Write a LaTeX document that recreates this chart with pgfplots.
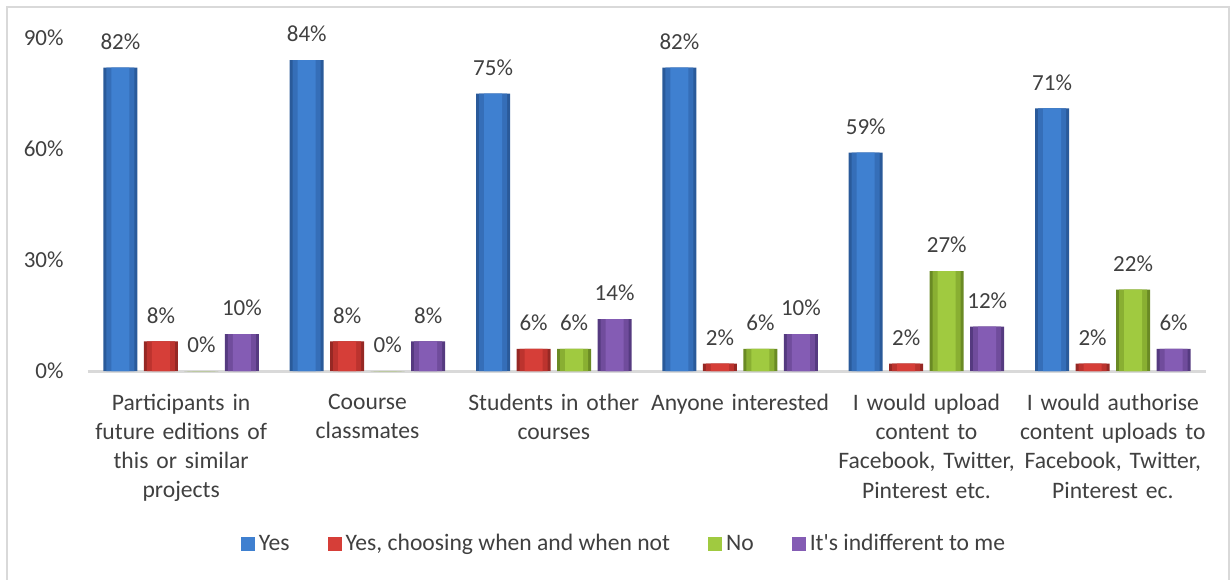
\documentclass[border=0pt]{standalone}
\usepackage{pgfplots}
\pgfplotsset{compat=1.18}
\usepackage{fontspec}
\setmainfont{Carlito}
\definecolor{txt}{HTML}{404040}
\definecolor{bmain}{HTML}{3F80D0}
\definecolor{bmid}{HTML}{356EB8}
\definecolor{bedge}{HTML}{2A5A9A}
\definecolor{rmain}{HTML}{D63E38}
\definecolor{rmid}{HTML}{BC332E}
\definecolor{redge}{HTML}{962824}
\definecolor{gmain}{HTML}{A0CA40}
\definecolor{gmid}{HTML}{89AF32}
\definecolor{gedge}{HTML}{6A8A24}
\definecolor{pmain}{HTML}{845CB4}
\definecolor{pmid}{HTML}{704C9C}
\definecolor{pedge}{HTML}{553A80}
\definecolor{frame}{HTML}{D9D9D9}
\pgfplotsset{
  lay1/.style={fill=#1, draw=none, bar width=17pt, forget plot},
  lay2/.style={fill=#1, draw=none, bar width=14pt, forget plot},
  lay3/.style={fill=#1, draw=none, bar width=9pt,
    nodes near coords={\pgfmathprintnumber{\pgfplotspointmeta}\%},
    every node near coord/.append style={font=\fontsize{11.5}{12}\selectfont, text=txt, yshift=5.5pt}},
}
\begin{document}
\begin{tikzpicture}
\path[use as bounding box] (0,0) rectangle (616pt,-289.5pt);
\draw[frame, line width=1pt] (3.5pt,-290pt) -- (3.5pt,-3.5pt) -- (614.5pt,-3.5pt) -- (614.5pt,-290pt);
\begin{axis}[
  at={(44pt,-185.5pt)}, anchor=south west,
  scale only axis, width=559pt, height=166.5pt,
  ybar,
  xmin=-0.5, xmax=5.5, ymin=0, ymax=90,
  axis x line*=bottom, axis y line*=left,
  x axis line style={frame, line width=1.5pt, -},
  y axis line style={draw=none},
  xtick=data, major tick length=0pt,
  ytick={0,30,60,90}, yticklabels={0\%,30\%,60\%,90\%},
  yticklabel style={font=\fontsize{11.5}{12}\selectfont, text=txt, anchor=east, xshift=-8.7pt},
  xticklabels={{Participants in\\future editions of\\this or similar\\projects},
    {Coourse\\classmates},{Students in other\\courses},{Anyone interested},
    {I would upload\\content to\\Facebook, Twitter,\\Pinterest etc.},
    {I would authorise\\content uploads to\\Facebook, Twitter,\\Pinterest ec.}},
  xticklabel style={text width=96pt, align=center, font=\fontsize{11.8}{14.6}\selectfont, text=txt, anchor=north, yshift=-8pt},
  clip=false,
  /pgf/number format/assume math mode=true,
  legend columns=4,
  legend style={draw=none, at={(axis description cs:0.5,0)}, anchor=center, yshift=-86.5pt, xshift=-11pt,
    font=\fontsize{11.8}{12}\selectfont, text=txt,
    /tikz/every even column/.append style={column sep=17pt}},
  legend image code/.code={\path[#1] (0pt,-3.5pt) rectangle (7pt,3.5pt);},
]
% Yes
\addplot[lay1=bedge, bar shift=-30.375pt] coordinates {(0,82) (1,84) (2,75) (3,82) (4,59) (5,71)};
\addplot[lay2=bmid, bar shift=-30.375pt] coordinates {(0,82) (1,84) (2,75) (3,82) (4,59) (5,71)};
\addplot[lay3=bmain, bar shift=-30.375pt] coordinates {(0,82) (1,84) (2,75) (3,82) (4,59) (5,71)};
% Yes, choosing
\addplot[lay1=redge, bar shift=-10.125pt] coordinates {(0,8) (1,8) (2,6) (3,2) (4,2) (5,2)};
\addplot[lay2=rmid, bar shift=-10.125pt] coordinates {(0,8) (1,8) (2,6) (3,2) (4,2) (5,2)};
\addplot[lay3=rmain, bar shift=-10.125pt] coordinates {(0,8) (1,8) (2,6) (3,2) (4,2) (5,2)};
% No
\addplot[lay1=gedge, bar shift=10.125pt] coordinates {(0,0) (1,0) (2,6) (3,6) (4,27) (5,22)};
\addplot[lay2=gmid, bar shift=10.125pt] coordinates {(0,0) (1,0) (2,6) (3,6) (4,27) (5,22)};
\addplot[lay3=gmain, bar shift=10.125pt] coordinates {(0,0) (1,0) (2,6) (3,6) (4,27) (5,22)};
% Indifferent
\addplot[lay1=pedge, bar shift=30.375pt] coordinates {(0,10) (1,8) (2,14) (3,10) (4,12) (5,6)};
\addplot[lay2=pmid, bar shift=30.375pt] coordinates {(0,10) (1,8) (2,14) (3,10) (4,12) (5,6)};
\addplot[lay3=pmain, bar shift=30.375pt] coordinates {(0,10) (1,8) (2,14) (3,10) (4,12) (5,6)};
\legend{Yes, {Yes, choosing when and when not}, No, It\textquotesingle s indifferent to me}
\end{axis}
\end{tikzpicture}
\end{document}
